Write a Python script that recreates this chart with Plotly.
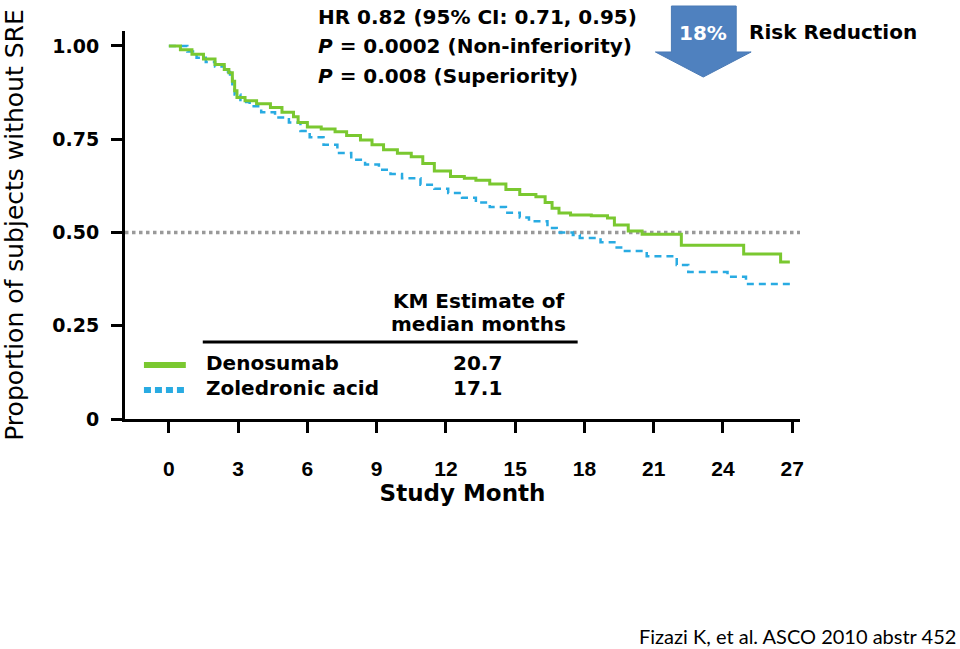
import plotly.graph_objects as go

# ---- data ----
deno_t = [0, 0.5, 1.0, 1.5, 2.0, 2.4, 2.6, 2.75, 2.85, 2.95, 3.3, 3.8, 4.4, 4.9, 5.4, 5.6, 6.0,
          6.6, 7.2, 7.7, 8.3, 8.8, 9.3, 9.9, 10.5, 11.0, 11.5, 12.2, 12.8, 13.3, 13.9, 14.6,
          15.2, 15.9, 16.3, 16.6, 16.9, 17.4, 18.3, 19.0, 19.3, 19.9, 20.5, 22.2, 24.9, 26.5, 26.9]
deno_s = [1.00, 0.99, 0.978, 0.965, 0.950, 0.937, 0.928, 0.905, 0.880, 0.862, 0.853, 0.845,
          0.835, 0.822, 0.810, 0.795, 0.783, 0.777, 0.770, 0.760, 0.748, 0.735, 0.722, 0.712,
          0.703, 0.685, 0.665, 0.650, 0.645, 0.640, 0.630, 0.615, 0.602, 0.596, 0.580, 0.565,
          0.552, 0.547, 0.545, 0.539, 0.520, 0.504, 0.495, 0.466, 0.442, 0.421, 0.421]

zol_t = [0, 0.8, 1.2, 1.6, 2.0, 2.4, 2.65, 2.75, 2.85, 3.1, 3.5, 4.0, 4.6, 5.2, 5.7, 6.1, 6.7,
         7.3, 7.9, 8.5, 9.1, 9.6, 10.1, 10.9, 11.5, 12.1, 12.7, 13.3, 13.9, 14.6, 15.2, 15.6,
         16.4, 16.8, 17.5, 17.8, 18.7, 19.3, 19.7, 20.7, 22.0, 22.5, 24.2, 25.0, 26.9]
zol_s = [1.00, 0.985, 0.968, 0.957, 0.945, 0.930, 0.912, 0.890, 0.870, 0.850, 0.838, 0.822,
         0.808, 0.795, 0.772, 0.755, 0.735, 0.713, 0.695, 0.682, 0.668, 0.657, 0.645, 0.628,
         0.617, 0.606, 0.593, 0.580, 0.568, 0.553, 0.540, 0.530, 0.512, 0.500, 0.493, 0.485,
         0.474, 0.460, 0.450, 0.436, 0.413, 0.394, 0.381, 0.362, 0.362]

x_ticks = [0, 3, 6, 9, 12, 15, 18, 21, 24, 27]
y_ticks = [0, 0.25, 0.5, 0.75, 1.0]
y_tick_labels = ["0", "0.25", "0.50", "0.75", "1.00"]

series_names = ["Denosumab", "Zoledronic acid"]
median_months = ["20.7", "17.1"]

GREEN = "rgb(122,200,48)"
BLUE = "rgb(41,171,226)"
BOLD = "DejaVu Sans"

fig = go.Figure()
fig.add_trace(go.Scatter(x=zol_t, y=zol_s, mode="lines", line_shape="hv",
                         line=dict(color=BLUE, width=2.5, dash="7px,5px"),
                         name=series_names[1], showlegend=False))
fig.add_trace(go.Scatter(x=deno_t, y=deno_s, mode="lines", line_shape="hv",
                         line=dict(color=GREEN, width=3),
                         name=series_names[0], showlegend=False))

# plot area pixel geometry
L, R, T, B = 123, 800, 31, 419
def px(x):
    return (x - L) / (R - L)
def py(y):
    return (B - y) / (B - T)

shapes = []
# 0.5 reference line
shapes.append(dict(type="line", xref="paper", yref="y", x0=0, x1=1, y0=0.5, y1=0.5,
                   line=dict(color="#999999", width=3.5, dash="dot"), layer="below"))
# arrow
arrow_pts = [(671, 6), (736, 6), (736, 52), (751, 52), (703, 77), (655, 52), (671, 52)]
path = "M " + " L ".join(f"{px(a):.4f},{py(b):.4f}" for a, b in arrow_pts) + " Z"
shapes.append(dict(type="path", xref="paper", yref="paper", path=path,
                   fillcolor="#4f81bf", line=dict(color="#4a7ab5", width=1)))
# table rule
shapes.append(dict(type="line", xref="paper", yref="paper", x0=px(201), x1=px(577),
                   y0=py(342), y1=py(342), line=dict(color="black", width=3)))
# legend swatches
shapes.append(dict(type="line", xref="paper", yref="paper", x0=px(142), x1=px(184),
                   y0=py(365), y1=py(365), line=dict(color=GREEN, width=6)))
shapes.append(dict(type="line", xref="paper", yref="paper", x0=px(142), x1=px(184),
                   y0=py(390), y1=py(390), line=dict(color=BLUE, width=6, dash="7px,4px")))

def ann(text, x, y, xanchor="left", size=20, color="black", family=BOLD):
    return dict(text=text, x=px(x), y=py(y), xref="paper", yref="paper",
                xanchor=xanchor, yanchor="middle", showarrow=False,
                font=dict(family=family, size=size, color=color))

annotations = [
    ann("<b>HR 0.82 (95% CI: 0.71, 0.95)</b>", 315, 17),
    ann("<b><i>P</i> = 0.0002 (Non-inferiority)</b>", 315, 46),
    ann("<b><i>P</i> = 0.008 (Superiority)</b>", 315, 76),
    ann("<b>18%</b>", 703, 33, xanchor="center", color="white"),
    ann("<b>Risk Reduction</b>", 747, 32),
    ann("<b>KM Estimate of</b>", 478, 301, xanchor="center"),
    ann("<b>median months</b>", 478, 324, xanchor="center"),
    ann(f"<b>{series_names[0]}</b>", 202, 363),
    ann(f"<b>{series_names[1]}</b>", 202, 388),
    ann(f"<b>{median_months[0]}</b>", 477, 363, xanchor="center"),
    ann(f"<b>{median_months[1]}</b>", 477, 388, xanchor="center"),
    ann("Fizazi K, et al. ASCO 2010 abstr 452", 958, 636, xanchor="right", size=20,
        family="Lato"),
]

fig.update_layout(
    width=960, height=649,
    margin=dict(l=L, r=960 - R, t=T, b=649 - B),
    paper_bgcolor="white", plot_bgcolor="white",
    showlegend=False,
    shapes=shapes, annotations=annotations,
    xaxis=dict(range=[-1.90, 27.34], tickvals=x_ticks, showgrid=False, zeroline=False,
               showline=True, linecolor="black", linewidth=3,
               ticks="outside", ticklen=11, tickwidth=3, tickcolor="black",
               ticklabelstandoff=18,
               tickfont=dict(family="Liberation Sans, Arial, sans-serif",
                             size=21, color="black", weight="bold"),
               title=dict(text="<b>Study Month</b>", standoff=6,
                          font=dict(family=BOLD, size=23, color="black"))),
    yaxis=dict(range=[0, 1.04], tickvals=y_ticks, ticktext=y_tick_labels,
               showgrid=False, zeroline=False,
               showline=True, linecolor="black", linewidth=3,
               ticks="outside", ticklen=11, tickwidth=3, tickcolor="black",
               ticklabelstandoff=8,
               tickfont=dict(family=BOLD, size=19, color="black", weight="bold"),
               title=dict(text="Proportion of subjects without SRE", standoff=23,
                          font=dict(family="DejaVu Sans", size=25, color="black"))),
)

fig.write_html("out.html", config={"displayModeBar": False},
               post_script="document.body.style.margin='0';document.body.style.overflow='hidden';")
